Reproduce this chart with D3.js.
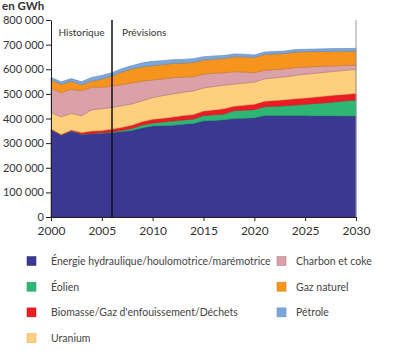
<!DOCTYPE html>
<html>
<head>
<meta charset="utf-8">
<script src="https://cdn.jsdelivr.net/npm/d3@7"></script>
<style>
  body { margin: 0; background: #fff; }
  svg text { font-family: Lato, "Open Sans", sans-serif; }
</style>
</head>
<body>
<svg id="chart" width="400" height="351"></svg>
<script>
const width = 400, height = 351;
const margin = { top: 20, right: 44, bottom: 134, left: 51 };

const years = d3.range(2000, 2031);

// values in thousand GWh
const hydro = [356, 333, 349, 336, 338, 340, 343, 347, 352, 362, 370, 371, 373, 377, 380, 391,
    392, 395, 400, 401, 403, 412, 412, 412, 412, 412, 411, 411, 411, 410, 410];
const wind = [0, 0, 1, 1, 1, 2, 3, 5, 8, 12, 12, 15, 17, 17, 18, 21,
    23, 23, 32, 33, 33, 36, 38, 40, 43, 46, 50, 53, 57, 62, 65];
const biomass = [2, 2, 3, 6, 10, 9, 11, 12, 14, 14, 15, 15, 16, 18, 18, 18,
    20, 22, 18, 20, 22, 22, 23, 24, 25, 25, 26, 27, 27, 26, 27];
const uranium = [66, 72, 68, 68, 86, 89, 88, 88, 86, 84, 88, 92, 94, 95, 96, 94,
    95, 95, 90, 90, 90, 91, 92, 93, 95, 97, 97, 97, 97, 98, 98];
const coal = [99, 98, 98, 102, 92, 87, 87, 86, 85, 80, 72, 68, 66, 61, 58, 56,
    54, 51, 50, 45, 38, 35, 34, 33, 32, 29, 27, 25, 22, 20, 17];
const gas = [33, 34, 32, 24, 25, 33, 41, 52, 57, 58, 58, 58, 58, 57, 58, 58,
    57, 58, 61, 61, 62, 64, 63, 62, 63, 62, 61, 59, 59, 57, 57];
const oil = [11, 10, 11, 12, 15, 15, 13, 13, 13, 16, 17, 16, 15, 15, 15, 13,
    13, 12, 11, 11, 10, 10, 10, 10, 10, 10, 10, 11, 11, 11, 11];

const seriesKeys = ["hydro", "wind", "biomass", "uranium", "coal", "gas", "oil"];
const seriesLabels = {
    hydro: "Énergie hydraulique/houlomotrice/marémotrice",
    wind: "Éolien",
    biomass: "Biomasse/Gaz d'enfouissement/Déchets",
    uranium: "Uranium",
    coal: "Charbon et coke",
    gas: "Gaz naturel",
    oil: "Pétrole"
};
const colors = {
    hydro: "#3a3891",
    wind: "#2db674",
    biomass: "#ec1c24",
    uranium: "#fecf7c",
    coal: "#dca0a9",
    gas: "#f7941e",
    oil: "#7ba7db"
};
const strokes = {
    hydro: "#2e2c78",
    wind: "#239a60",
    biomass: "#c8141c",
    uranium: "#d8a860",
    coal: "#a07880",
    gas: "#d07818",
    oil: "#5a86bb"
};

const yTicks = [0, 100000, 200000, 300000, 400000, 500000, 600000, 700000, 800000];
const xTicks = [2000, 2005, 2010, 2015, 2020, 2025, 2030];
const splitYear = 2006;

const table = years.map((y, i) => ({
    year: y,
    hydro: hydro[i] * 1000,
    wind: wind[i] * 1000,
    biomass: biomass[i] * 1000,
    uranium: uranium[i] * 1000,
    coal: coal[i] * 1000,
    gas: gas[i] * 1000,
    oil: oil[i] * 1000
}));

const stacked = d3.stack().keys(seriesKeys)(table);

const svg = d3.select("#chart");
const plotBottom = height - margin.bottom;

const x = d3.scaleLinear()
    .domain([2000, 2030])
    .range([margin.left, width - margin.right]);

const y = d3.scaleLinear()
    .domain([0, 800000])
    .range([plotBottom, margin.top]);

const area = d3.area()
    .x(d => x(d.data.year))
    .y0(d => y(d[0]))
    .y1(d => y(d[1]));

svg.append("g")
    .selectAll("path")
    .data(stacked)
    .enter()
    .append("path")
    .attr("d", area)
    .attr("fill", d => colors[d.key])
    .attr("stroke", d => strokes[d.key])
    .attr("stroke-width", 0.6);

const fmt = v => d3.format(",")(v).replace(/,/g, " ");

// y axis
const yAxis = svg.append("g")
    .attr("transform", `translate(${margin.left},0)`)
    .call(d3.axisLeft(y).tickValues(yTicks).tickFormat(fmt).tickSize(5).tickSizeOuter(0));
yAxis.selectAll("text")
    .style("font-size", "11px")
    .style("fill", "#333")
    .attr("x", -7);
yAxis.selectAll("line, path").attr("stroke", "#222");

// x axis
const xAxis = svg.append("g")
    .attr("transform", `translate(0,${plotBottom})`)
    .call(d3.axisBottom(x).tickValues(xTicks).tickFormat(d3.format("d")).tickSize(4).tickSizeOuter(0));
xAxis.selectAll("text")
    .style("font-size", "12px")
    .style("fill", "#333")
    .attr("y", 9);
xAxis.selectAll("line, path").attr("stroke", "#222");

// right border
svg.append("line")
    .attr("x1", x(2030)).attr("x2", x(2030))
    .attr("y1", margin.top).attr("y2", plotBottom)
    .attr("stroke", "#999")
    .attr("stroke-width", 1);

// historic / forecast split
svg.append("line")
    .attr("x1", x(splitYear)).attr("x2", x(splitYear))
    .attr("y1", margin.top).attr("y2", plotBottom)
    .attr("stroke", "#111")
    .attr("stroke-width", 1.5);

svg.append("text")
    .attr("x", (x(2000) + x(splitYear)) / 2)
    .attr("y", 36)
    .attr("text-anchor", "middle")
    .style("font-size", "10px")
    .style("fill", "#333")
    .text("Historique");

svg.append("text")
    .attr("x", x(splitYear) + 10)
    .attr("y", 36)
    .style("font-size", "10px")
    .style("fill", "#333")
    .text("Prévisions");

svg.append("text")
    .attr("x", 2)
    .attr("y", 10)
    .style("font-size", "11.5px")
    .style("font-weight", "bold")
    .style("fill", "#333")
    .text("en GWh");

// legend
const legendCols = [
    { keys: ["hydro", "wind", "biomass", "uranium"], sx: 27, tx: 51 },
    { keys: ["coal", "gas", "oil"], sx: 277, tx: 296 }
];
legendCols.forEach(col => {
    col.keys.forEach((k, i) => {
        const cy = 261 + i * 25.7;
        svg.append("rect")
            .attr("x", col.sx)
            .attr("y", cy - 4.5)
            .attr("width", 9)
            .attr("height", 9)
            .attr("fill", colors[k])
            .attr("stroke", strokes[k])
            .attr("stroke-width", 0.5);
        svg.append("text")
            .attr("x", col.tx)
            .attr("y", cy + 4)
            .style("font-size", "10.5px")
            .style("fill", "#444")
            .text(seriesLabels[k]);
    });
});
</script>
</body>
</html>
